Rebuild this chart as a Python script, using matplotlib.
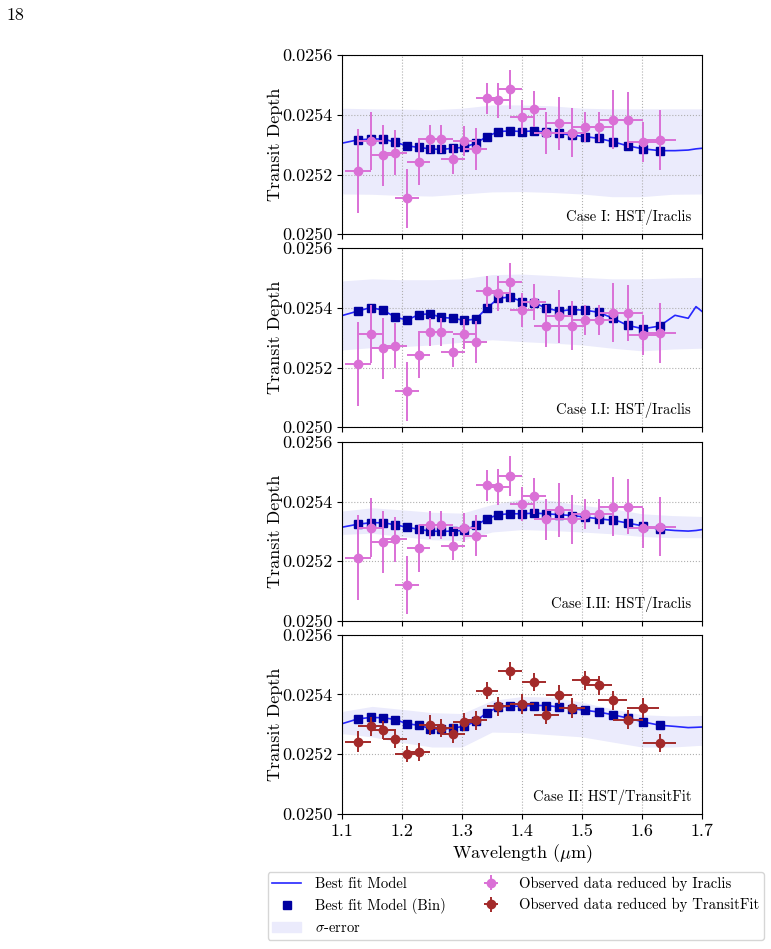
import matplotlib
matplotlib.use("Agg")
import matplotlib.pyplot as plt
import numpy as np
from matplotlib.lines import Line2D
from matplotlib.patches import Patch
from matplotlib.ticker import FormatStrFormatter

plt.rcParams['font.family'] = 'serif'
plt.rcParams['font.serif'] = ['cmr10']
plt.rcParams['mathtext.fontset'] = 'cm'
plt.rcParams['axes.formatter.use_mathtext'] = True
plt.rcParams['axes.unicode_minus'] = False

# spectral bins (um) and bin half-widths
wl = [1.1262, 1.1478, 1.1686, 1.1888, 1.2084, 1.2275, 1.2465, 1.2655, 1.2848, 1.3038,
      1.3226, 1.3415, 1.3605, 1.3801, 1.4000, 1.4202, 1.4406, 1.4615, 1.4831, 1.5053,
      1.5280, 1.5515, 1.5762, 1.6021, 1.6294]
wl_err = [0.0219, 0.0211, 0.0206, 0.0198, 0.0195, 0.0190, 0.0190, 0.0189, 0.0197, 0.0186,
          0.0189, 0.0189, 0.0192, 0.0198, 0.0200, 0.0204, 0.0205, 0.0214, 0.0218, 0.0226,
          0.0228, 0.0243, 0.0249, 0.0268, 0.0277]

# observed spectra
iraclis = [0.025212, 0.025313, 0.025264, 0.025273, 0.025120, 0.025243, 0.025320, 0.025320,
           0.025251, 0.025313, 0.025286, 0.025455, 0.025448, 0.025485, 0.025392, 0.025419,
           0.025340, 0.025371, 0.025340, 0.025358, 0.025358, 0.025383, 0.025383, 0.025310,
           0.025316]
iraclis_err = [0.000142, 0.000098, 0.000103, 0.000076, 0.000098, 0.000079, 0.000047, 0.000047,
               0.000048, 0.000050, 0.000070, 0.000052, 0.000060, 0.000066, 0.000057, 0.000060,
               0.000070, 0.000090, 0.000082, 0.000050, 0.000050, 0.000099, 0.000093, 0.000067,
               0.000100]
transitfit = [0.025242, 0.025293, 0.025280, 0.025250, 0.025201, 0.025207, 0.025297, 0.025289,
              0.025269, 0.025308, 0.025313, 0.025413, 0.025360, 0.025477, 0.025369, 0.025441,
              0.025330, 0.025399, 0.025354, 0.025447, 0.025430, 0.025380, 0.025316, 0.025354,
              0.025239]
transitfit_err = [0.000036, 0.000032, 0.000030, 0.000030, 0.000028, 0.000030, 0.000033, 0.000030,
                  0.000032, 0.000030, 0.000032, 0.000029, 0.000033, 0.000030, 0.000033, 0.000030,
                  0.000030, 0.000032, 0.000033, 0.000033, 0.000032, 0.000033, 0.000032, 0.000034,
                  0.000030]

# binned best-fit models
bin_I = [0.025316, 0.025319, 0.025319, 0.025308, 0.025296, 0.025291, 0.025286, 0.025284,
         0.025288, 0.025291, 0.025305, 0.025327, 0.025344, 0.025346, 0.025344, 0.025346,
         0.025342, 0.025338, 0.025332, 0.025327, 0.025321, 0.025310, 0.025296, 0.025286,
         0.025280]
bin_I1 = [0.025389, 0.025401, 0.025392, 0.025369, 0.025359, 0.025377, 0.025380, 0.025368,
          0.025365, 0.025358, 0.025362, 0.025399, 0.025432, 0.025436, 0.025421, 0.025417,
          0.025399, 0.025389, 0.025394, 0.025392, 0.025385, 0.025365, 0.025341, 0.025330,
          0.025339]
bin_I2 = [0.025324, 0.025329, 0.025329, 0.025322, 0.025314, 0.025307, 0.025301, 0.025300,
          0.025301, 0.025303, 0.025320, 0.025342, 0.025356, 0.025359, 0.025359, 0.025361,
          0.025359, 0.025356, 0.025353, 0.025348, 0.025342, 0.025337, 0.025328, 0.025318,
          0.025307]
bin_II = [0.025318, 0.025323, 0.025322, 0.025316, 0.025302, 0.025297, 0.025286, 0.025283,
          0.025288, 0.025293, 0.025310, 0.025339, 0.025358, 0.025360, 0.025361, 0.025363,
          0.025363, 0.025358, 0.025352, 0.025347, 0.025341, 0.025332, 0.025321, 0.025308,
          0.025297]

# model line: start value and tail beyond last bin
tail_wl = [1.655, 1.677, 1.690, 1.700]
line_start = {'I': 0.025305, 'I1': 0.025374, 'I2': 0.025314, 'II': 0.025302}
line_tail = {'I': [0.025280, 0.025282, 0.025286, 0.025288],
             'I1': [0.025375, 0.025365, 0.025404, 0.025388],
             'I2': [0.025303, 0.025301, 0.025303, 0.025306],
             'II': [0.025293, 0.025289, 0.025290, 0.025291]}

# sigma band
band_wl = [1.10, 1.15, 1.20, 1.25, 1.30, 1.35, 1.40, 1.45, 1.50, 1.55, 1.60, 1.65, 1.70]
band_hi = {'I': [0.025422, 0.025420, 0.025419, 0.025417, 0.025422, 0.025433, 0.025433, 0.025430,
                 0.025422, 0.025420, 0.025420, 0.025420, 0.025420],
           'I1': [0.025490, 0.025497, 0.025494, 0.025494, 0.025497, 0.025511, 0.025513, 0.025508,
                  0.025502, 0.025497, 0.025497, 0.025500, 0.025502],
           'I2': [0.025368, 0.025379, 0.025372, 0.025364, 0.025361, 0.025390, 0.025409, 0.025403,
                  0.025387, 0.025376, 0.025359, 0.025353, 0.025350],
           'II': [0.025343, 0.025360, 0.025350, 0.025339, 0.025336, 0.025380, 0.025393, 0.025391,
                  0.025374, 0.025352, 0.025332, 0.025328, 0.025330]}
band_lo = {'I': [0.025135, 0.025134, 0.025130, 0.025128, 0.025135, 0.025142, 0.025143, 0.025140,
                 0.025135, 0.025126, 0.025126, 0.025134, 0.025135],
           'I1': [0.025259, 0.025267, 0.025270, 0.025276, 0.025285, 0.025293, 0.025287, 0.025282,
                  0.025276, 0.025265, 0.025256, 0.025262, 0.025265],
           'I2': [0.025290, 0.025294, 0.025283, 0.025272, 0.025270, 0.025298, 0.025306, 0.025303,
                  0.025298, 0.025292, 0.025283, 0.025279, 0.025279],
           'II': [0.025269, 0.025258, 0.025239, 0.025224, 0.025224, 0.025274, 0.025272, 0.025265,
                  0.025258, 0.025241, 0.025224, 0.025224, 0.025230]}

panels = [('I', bin_I, 'Case I: HST/Iraclis', 'iraclis'),
          ('I1', bin_I1, 'Case I.I: HST/Iraclis', 'iraclis'),
          ('I2', bin_I2, 'Case I.II: HST/Iraclis', 'iraclis'),
          ('II', bin_II, 'Case II: HST/TransitFit', 'transitfit')]

fig = plt.figure(figsize=(7.71, 9.49), dpi=100)
fig.text(0.008, 0.984, '18', fontsize=13, va='center')

bottoms = [0.7531, 0.5497, 0.3456, 0.1423]
err_handles = {}
for i, (key, binned, label, source) in enumerate(panels):
    ax = fig.add_axes([0.4436, bottoms[i], 0.4669, 0.1889])
    ax.fill_between(band_wl, band_lo[key], band_hi[key], color='#ebebfc', lw=0, zorder=1)
    lx = [1.10] + wl + tail_wl
    ly = [line_start[key]] + binned + line_tail[key]
    ax.plot(lx, ly, color='#2626ff', lw=1.2, zorder=2)
    ax.plot(wl, binned, 's', color='#0000a0', ms=6, zorder=3)
    if source == 'iraclis':
        h = ax.errorbar(wl, iraclis, yerr=iraclis_err, xerr=wl_err, fmt='o', color='orchid',
                        ms=6, elinewidth=1.4, zorder=4)
    else:
        h = ax.errorbar(wl, transitfit, yerr=transitfit_err, xerr=wl_err, fmt='o', color='#a32a2a',
                        ms=6, elinewidth=1.4, zorder=4)
    err_handles[source] = h
    ax.set_xlim(1.1, 1.7)
    ax.set_ylim(0.0250, 0.0256)
    ax.set_yticks([0.0250, 0.0252, 0.0254, 0.0256])
    ax.yaxis.set_major_formatter(FormatStrFormatter('%.4f'))
    ax.set_xticks([1.1, 1.2, 1.3, 1.4, 1.5, 1.6, 1.7])
    ax.grid(True, ls=':', color='#b0b0b0', lw=0.8)
    ax.tick_params(labelsize=13)
    ax.set_ylabel('Transit Depth', fontsize=13)
    ax.yaxis.set_label_coords(-0.163, 0.5)
    ax.text(0.97, 0.05, label, transform=ax.transAxes, ha='right', va='bottom', fontsize=10.5)
    if i < 3:
        ax.tick_params(labelbottom=False)
    else:
        ax.set_xticklabels(['1.1', '1.2', '1.3', '1.4', '1.5', '1.6', '1.7'])
        ax.set_xlabel(r'Wavelength ($\mu$m)', fontsize=13, labelpad=2)

handles = [Line2D([], [], color='#2626ff', lw=1.2),
           Line2D([], [], marker='s', ls='', color='#0000a0', ms=6),
           Patch(color='#ebebfc'),
           err_handles['iraclis'],
           err_handles['transitfit']]
labels = ['Best fit Model', 'Best fit Model (Bin)', r'$\sigma$-error',
          'Observed data reduced by Iraclis', 'Observed data reduced by TransitFit']
fig.legend(handles, labels, ncol=2, loc='upper left', bbox_to_anchor=(0.347, 0.081),
           fontsize=10.6, frameon=True, edgecolor='#cccccc', fancybox=True,
           handlelength=2.0, handletextpad=0.9, columnspacing=2.1, borderaxespad=0,
           labelspacing=0.5, borderpad=0.3)

plt.savefig('out.png', dpi=100)
